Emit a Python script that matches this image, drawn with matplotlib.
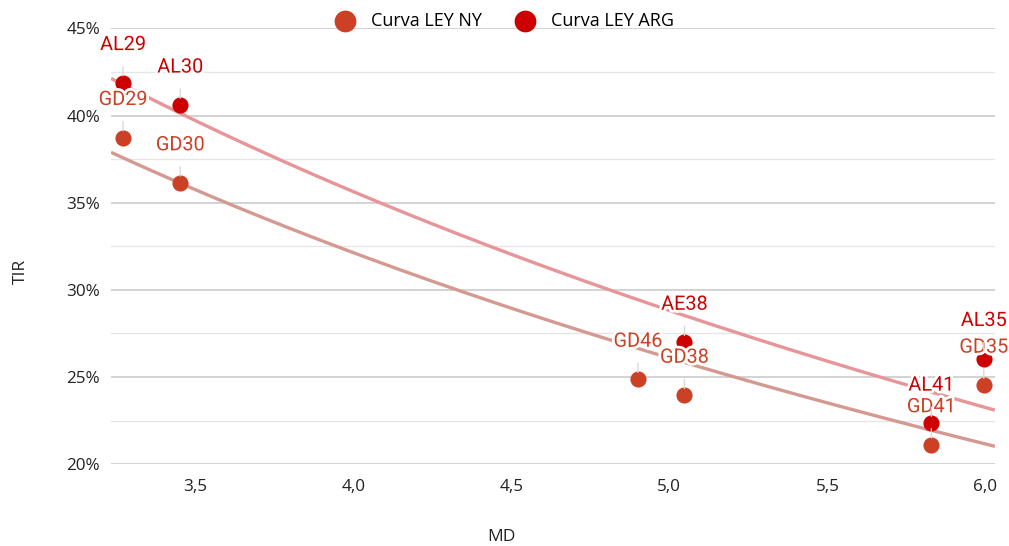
import matplotlib.pyplot as plt
import matplotlib.patheffects as pe
import numpy as np
from matplotlib.ticker import MultipleLocator, FuncFormatter

# Curva LEY ARG
arg_names = ["AL29", "AL30", "AE38", "AL41", "AL35"]
arg_md = [3.272, 3.453, 5.048, 5.829, 5.995]
arg_tir = [41.88, 40.59, 26.98, 22.34, 26.05]

# Curva LEY NY
ny_names = ["GD29", "GD30", "GD46", "GD38", "GD41", "GD35"]
ny_md = [3.272, 3.453, 4.901, 5.048, 5.829, 5.995]
ny_tir = [38.73, 36.13, 24.86, 23.94, 21.10, 24.52]

c_ny = "#cc4125"
c_arg = "#cc0000"
c_trend_ny = "#d49a92"
c_trend_arg = "#e8959a"

plt.rcParams['font.family'] = ['Open Sans', 'DejaVu Sans']

fig = plt.figure(figsize=(10.09, 5.46), dpi=100)
ax = fig.add_axes([0.110, 0.150, 0.876, 0.798])

xlo, xhi = 3.234, 6.03
ax.set_xlim(xlo, xhi)
ax.set_ylim(20, 45)

# logarithmic trend lines (y = a + b*ln x) fitted on the data
xs = np.linspace(xlo, xhi, 200)
for mx, ty, col in [(ny_md, ny_tir, c_trend_ny), (arg_md, arg_tir, c_trend_arg)]:
    b, a = np.polyfit(np.log(mx), ty, 1)
    ax.plot(xs, a + b * np.log(xs), color=col, lw=2.4, zorder=2, solid_capstyle='butt')

ax.scatter(ny_md, ny_tir, s=135, color=c_ny, zorder=3, linewidths=0, label="Curva LEY NY")
ax.scatter(arg_md, arg_tir, s=135, color=c_arg, zorder=3, linewidths=0, label="Curva LEY ARG")

halo = [pe.withStroke(linewidth=4, foreground="white")]
for names, mx, ty, col in [(ny_names, ny_md, ny_tir, c_ny), (arg_names, arg_md, arg_tir, c_arg)]:
    for n, x, y in zip(names, mx, ty):
        ax.annotate(n, (x, y), xytext=(0, 27.5), textcoords="offset points",
                    ha="center", va="center", fontsize=14.3, color=col,
                    family=["Roboto", "DejaVu Sans"], zorder=5, clip_on=False,
                    path_effects=halo,
                    arrowprops=dict(arrowstyle="-", color="#d9d9d9", lw=1,
                                    shrinkA=7, shrinkB=5))

ax.yaxis.set_major_locator(MultipleLocator(5))
ax.yaxis.set_minor_locator(MultipleLocator(2.5))
ax.xaxis.set_major_locator(MultipleLocator(0.5))
ax.yaxis.set_major_formatter(FuncFormatter(lambda v, p: f"{v:.0f}%"))
ax.xaxis.set_major_formatter(FuncFormatter(lambda v, p: f"{v:.1f}".replace(".", ",")))
ax.grid(axis="y", which="major", color="#cccccc", lw=1.2)
ax.grid(axis="y", which="minor", color="#e6e6e6", lw=1)
ax.set_axisbelow(True)
for s in ax.spines.values():
    s.set_visible(False)
ax.tick_params(which="both", length=0, labelsize=12.3, colors="#222222")
ax.tick_params(axis="y", pad=8)
ax.tick_params(axis="x", pad=11)

fig.text(0.497, 0.017, "MD", fontsize=12.5, color="#222222", ha="center", va="center")
fig.text(0.021, 0.502, "TIR", fontsize=12.5, color="#222222", ha="center", va="center",
         rotation=90)

fig.legend(loc="center", bbox_to_anchor=(0.496, 0.962), ncol=2, frameon=False,
           fontsize=13, markerscale=1.35, handletextpad=0.45, columnspacing=1.35)

fig.savefig("out.png", dpi=100)
